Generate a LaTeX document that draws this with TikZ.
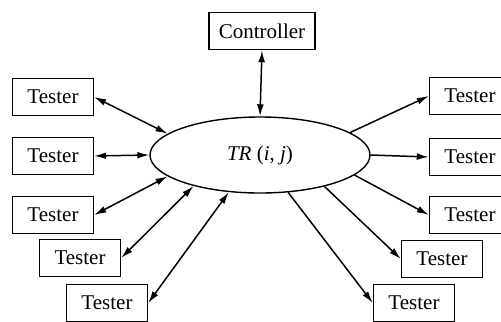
\documentclass[tikz,border=0pt]{standalone}
\usepackage{fontspec}
\setmainfont{Liberation Serif}
\usetikzlibrary{arrows.meta,shapes.geometric}

\begin{document}
\begin{tikzpicture}[
    box/.style={draw, line width=.7pt, inner xsep=5pt, minimum width=40.5pt, minimum height=18.5pt, font=\rmfamily\fontsize{10.5}{12}\selectfont},
    link/.style={line width=.75pt, -{Latex[length=6pt,width=3.4pt]}},
    both/.style={line width=.75pt, {Latex[length=6pt,width=3.4pt]}-{Latex[length=6pt,width=3.4pt]}}
  ]
      \useasboundingbox (0,0) rectangle (8.804,5.641);
      \clip (0,0) rectangle (8.804,5.641);
      % the hub and its controller
      \node [draw, ellipse, line width=.7pt, minimum width=110pt, minimum height=38pt, font=\rmfamily\fontsize{10.5}{12}\selectfont] (tr) at (4.569,2.917) {\textit{TR} (\textit{i}, \textit{j})};
      \node [box] (ctrl) at (4.604,5.096) {Controller};
      \draw [both] (ctrl.south) -- (tr.north);
      % testers on the left
      \node [box] (tl1) at (0.931,3.936) {Tester};
      \node [box] (tl2) at (0.931,2.900) {Tester};
      \node [box] (tl3) at (0.931,1.863) {Tester};
      \node [box] (tl4) at (1.406,1.107) {Tester};
      \node [box] (tl5) at (1.880,0.316) {Tester};
      \draw [both] (tl1.east) -- (tr.167);
      \draw [both] (tl2.east) -- (tr.west);
      \draw [both] (tl3.east) -- (tr.193);
      \draw [both] (tl4.east) -- (tr.205);
      \draw [both] (tl5.east) -- (tr.230);
      % testers on the right
      \node [box] (tr1) at (8.259,3.954) {Tester};
      \node [box] (tr2) at (8.259,2.882) {Tester};
      \node [box] (tr3) at (8.259,1.863) {Tester};
      \node [box] (tr4) at (7.767,1.090) {Tester};
      \node [box] (tr5) at (7.275,0.316) {Tester};
      \draw [link] (tr.14) -- (tr1.west);
      \draw [link] (tr.east) -- (tr2.west);
      \draw [link] (tr.348) -- (tr3.west);
      \draw [link] (tr.334) -- (tr4.west);
      \draw [link] (tr.307) -- (tr5.west);
    \end{tikzpicture}
\end{document}
